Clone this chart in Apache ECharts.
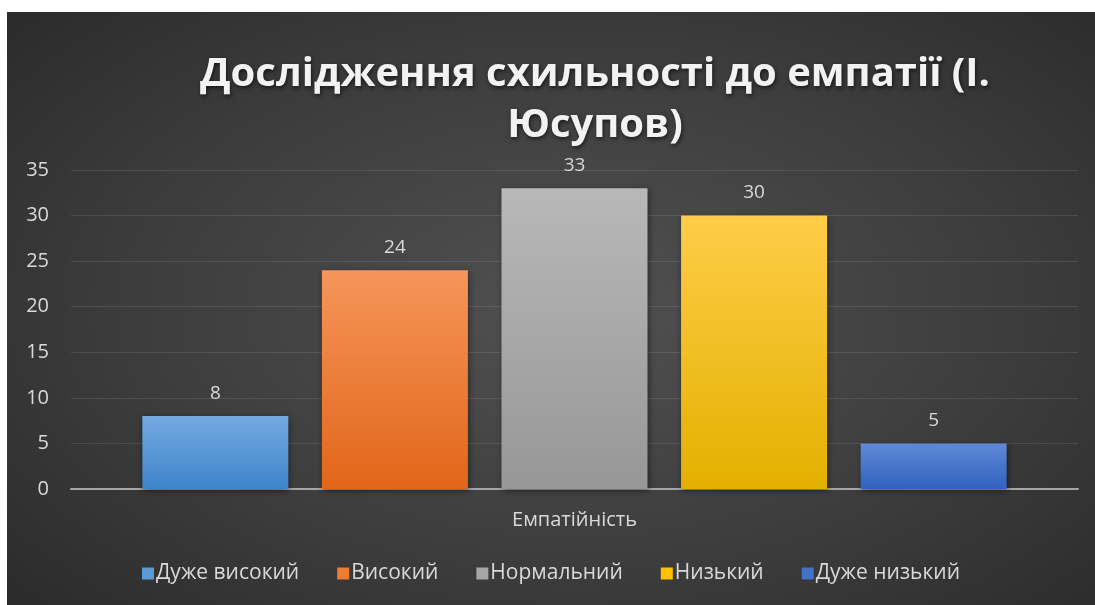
<!DOCTYPE html>
<html>
<head>
<meta charset="utf-8">
<script src="https://cdn.jsdelivr.net/npm/echarts@6/dist/echarts.min.js"></script>
<style>
  html, body { margin: 0; padding: 0; background: #ffffff; }
  #chart {
    position: absolute; left: 7px; top: 12px; width: 1088px; height: 593px;
    background: radial-gradient(ellipse 75% 80% at 52% 50%, #515151 0%, #3c3c3c 55%, #282828 100%);
  }
</style>
</head>
<body>
<div id="chart"></div>
<script>
  // дані діаграми
  const categories = ['Емпатійність'];
  const seriesNames = ['Дуже високий', 'Високий', 'Нормальний', 'Низький', 'Дуже низький'];
  const seriesValues = [[8], [24], [33], [30], [5]];
  const yTicks = { min: 0, max: 35, interval: 5 };

  // кольори (верх, низ градієнта)
  const colors = [
    ['#76aae2', '#3d84ca'],
    ['#f5955a', '#e2661a'],
    ['#b8b8b8', '#979797'],
    ['#ffcd48', '#e3b000'],
    ['#6189d8', '#2f62bf']
  ];
  const legendColors = ['#5b9bd5', '#ed7d31', '#a5a5a5', '#ffc000', '#4472c4'];

  const chart = echarts.init(document.getElementById('chart'));

  const series = seriesNames.map(function (name, i) {
    return {
      name: name,
      type: 'bar',
      data: seriesValues[i],
      barWidth: 146,
      barGap: '23%',
      itemStyle: {
        color: new echarts.graphic.LinearGradient(0, 0, 0, 1, [
          { offset: 0, color: colors[i][0] },
          { offset: 1, color: colors[i][1] }
        ]),
        shadowColor: 'rgba(0,0,0,0.45)',
        shadowBlur: 6,
        shadowOffsetX: 1,
        shadowOffsetY: 2
      },
      label: {
        show: true,
        position: 'top',
        distance: 13,
        color: '#d9d9d9',
        fontSize: 19,
        fontFamily: 'Open Sans'
      },
      emphasis: { disabled: true }
    };
  });

  chart.setOption({
    backgroundColor: 'transparent',
    color: legendColors,
    animation: false,
    title: {
      text: 'Дослідження схильності до емпатії (І.\nЮсупов)',
      left: 583,
      top: 32,
      textAlign: 'center',
      textStyle: {
        color: '#f2f2f2',
        fontSize: 40,
        fontWeight: 'bold',
        fontFamily: 'Open Sans',
        lineHeight: 51,
        textShadowColor: 'rgba(0,0,0,0.6)',
        textShadowBlur: 4,
        textShadowOffsetX: 1,
        textShadowOffsetY: 2
      }
    },
    legend: {
      bottom: 16,
      left: 'center',
      itemWidth: 12,
      itemHeight: 12,
      itemGap: 38,
      icon: 'rect',
      textStyle: { color: '#d9d9d9', fontSize: 21, fontFamily: 'Open Sans', padding: [0, 0, 0, -3] },
      data: seriesNames.map(function (n, i) {
        return { name: n, itemStyle: { color: legendColors[i] } };
      })
    },
    grid: { left: 64, right: 17, top: 158, bottom: 116 },
    xAxis: {
      type: 'category',
      data: categories,
      axisLine: { lineStyle: { color: '#a6a6a6', width: 2 } },
      axisTick: { show: false },
      axisLabel: { color: '#d9d9d9', fontSize: 20, fontFamily: 'Open Sans', margin: 21 }
    },
    yAxis: {
      type: 'value',
      min: yTicks.min,
      max: yTicks.max,
      interval: yTicks.interval,
      axisLine: { show: false },
      axisTick: { show: false },
      axisLabel: { color: '#d9d9d9', fontSize: 20, fontFamily: 'Open Sans', margin: 22 },
      splitLine: { lineStyle: { color: 'rgba(255,255,255,0.1)', width: 1 } }
    },
    series: series
  });
</script>
</body>
</html>
